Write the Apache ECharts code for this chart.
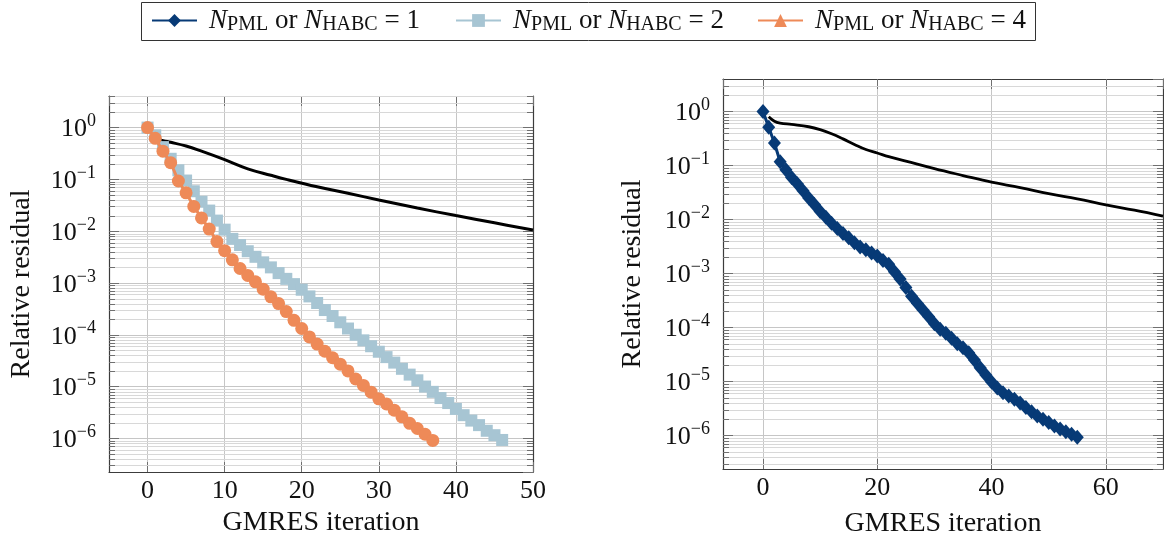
<!DOCTYPE html>
<html>
<head>
<meta charset="utf-8">
<script src="https://cdn.jsdelivr.net/npm/echarts@6/dist/echarts.min.js"></script>
<style>
html, body { margin: 0; padding: 0; background: #fff; }
#chart { width: 1164px; height: 543px; }
</style>
</head>
<body>
<div id="chart"></div>
<script>
// Relative GMRES residual per iteration (array index = iteration number)
const residualN1 = [
  1, 0.51, 0.26, 0.117, 0.083, 0.060, 0.046, 0.034, 0.025, 0.019,
  0.014, 0.011, 8.5e-3, 6.8e-3, 5.5e-3, 4.6e-3, 3.7e-3, 3.1e-3, 2.75e-3, 2.4e-3,
  2.1e-3, 1.74e-3, 1.48e-3, 1.07e-3, 7.9e-4, 5.5e-4, 3.8e-4, 2.8e-4, 2.1e-4, 1.58e-4,
  1.17e-4, 9.3e-5, 7.8e-5, 6.3e-5, 5.0e-5, 4.2e-5, 3.4e-5, 2.5e-5, 1.8e-5, 1.32e-5,
  9.8e-6, 7.6e-6, 6.2e-6, 5.4e-6, 4.7e-6, 4.0e-6, 3.3e-6, 2.75e-6, 2.3e-6, 2.0e-6,
  1.74e-6, 1.5e-6, 1.32e-6, 1.17e-6, 1.05e-6, 9.3e-7
];
const residualN2 = [
  1, 0.71, 0.42, 0.25, 0.15, 0.095, 0.059, 0.037, 0.025, 0.016,
  0.0107, 7.1e-3, 5.4e-3, 4.1e-3, 3.2e-3, 2.5e-3, 2.0e-3, 1.55e-3, 1.2e-3, 9.5e-4,
  7.4e-4, 5.5e-4, 4.1e-4, 3.0e-4, 2.3e-4, 1.74e-4, 1.32e-4, 1.0e-4, 7.8e-5, 6.0e-5,
  4.7e-5, 3.7e-5, 2.9e-5, 2.2e-5, 1.7e-5, 1.32e-5, 1.0e-5, 7.9e-6, 6.0e-6, 4.8e-6,
  3.7e-6, 2.8e-6, 2.2e-6, 1.8e-6, 1.4e-6, 1.15e-6, 9.3e-7
];
const residualN4 = [
  1, 0.62, 0.35, 0.21, 0.093, 0.055, 0.030, 0.018, 0.011, 6.3e-3,
  4.2e-3, 2.8e-3, 1.9e-3, 1.4e-3, 1.05e-3, 7.6e-4, 5.4e-4, 4.0e-4, 2.8e-4, 1.9e-4,
  1.32e-4, 9.1e-5, 6.6e-5, 4.8e-5, 3.6e-5, 2.7e-5, 2.0e-5, 1.4e-5, 1.05e-5, 7.8e-6,
  5.8e-6, 4.6e-6, 3.5e-6, 2.6e-6, 1.95e-6, 1.55e-6, 1.2e-6, 9.1e-7
];

// Unpreconditioned reference curves (iteration, residual)
const refLeftIter = [1, 2, 3, 5, 7, 10, 13, 16, 18, 22, 26, 30, 35, 40, 45, 50];
const refLeftRes  = [0.62, 0.56, 0.52, 0.44, 0.35, 0.24, 0.16, 0.12, 0.10, 0.072, 0.054, 0.040, 0.028, 0.020, 0.0145, 0.0105];
const refRightIter = [1, 2, 3, 5, 8, 10, 12, 14, 16, 18, 20, 22, 25, 30, 35, 40, 45, 50, 55, 60, 65, 70];
const refRightRes  = [0.80, 0.66, 0.61, 0.575, 0.52, 0.46, 0.385, 0.31, 0.245, 0.197, 0.170, 0.145, 0.120, 0.087, 0.065, 0.049, 0.039, 0.030, 0.024, 0.0186, 0.0148, 0.0115];

// Legend labels: layer count for each run
const legendCounts = { n1: '1', n2: '2', n4: '4' };

const FONT = 'Liberation Serif';
const C_N1 = '#073a76';
const C_N2 = '#a7c5d3';
const C_N4 = '#ee8a58';
const AXIS_COL = '#3c3c3c';
const TICK_COL = '#707070';
const GRID_MAJOR = '#c6c6c6';
const GRID_MINOR = '#d8d8d8';

const leftRange  = { xMin: -5, xMax: 50, yMin: Math.pow(10, -6.65), yMax: Math.pow(10, 0.61) };
const rightRange = { xMin: -7, xMax: 70, yMin: Math.pow(10, -6.62), yMax: Math.pow(10, 0.60) };

// Minor log ticks (2..9 per decade)
function minorTicks(lo, hi) {
  const out = [];
  for (let k = -7; k <= 0; k++) {
    for (let m = 2; m <= 9; m++) {
      const v = m * Math.pow(10, k);
      if (v > lo && v < hi) out.push(v);
    }
  }
  return out;
}

const tickRich = {
  b: { fontFamily: FONT, fontSize: 26, lineHeight: 30, verticalAlign: 'bottom', color: '#111' },
  p: { fontFamily: FONT, fontSize: 18, lineHeight: 16, verticalAlign: 'top', color: '#111' }
};
function powLabel(v) {
  const k = Math.round(Math.log10(v));
  return '{b|10}{p|' + (k < 0 ? '\u2212' : '') + Math.abs(k) + '}';
}

function xAxes(gi, r, showMax, nameGap) {
  return [
    {
      type: 'value', gridIndex: gi, min: r.xMin, max: r.xMax, position: 'bottom',
      axisLine: { show: true, onZero: false, lineStyle: { color: AXIS_COL, width: 1.2 } },
      axisTick: { show: true, inside: true, length: 10, lineStyle: { color: TICK_COL } },
      axisLabel: { show: true, margin: 6, color: '#111', fontFamily: FONT, fontSize: 26,
                   showMinLabel: false, showMaxLabel: showMax },
      splitLine: { show: true, lineStyle: { color: GRID_MAJOR, width: 1 } },
      name: 'GMRES iteration', nameLocation: 'middle', nameGap: nameGap,
      nameTextStyle: { fontFamily: FONT, fontSize: 28, color: '#111' }
    },
    {
      type: 'value', gridIndex: gi, min: r.xMin, max: r.xMax, position: 'top',
      axisLine: { show: true, onZero: false, lineStyle: { color: AXIS_COL, width: 1.2 } },
      axisTick: { show: true, inside: true, length: 10, lineStyle: { color: TICK_COL } },
      axisLabel: { show: false },
      splitLine: { show: false }
    }
  ];
}

function yAxes(gi, r, nameGap) {
  return [
    {
      type: 'log', logBase: 10, gridIndex: gi, min: r.yMin, max: r.yMax, splitNumber: 7, position: 'left',
      axisLine: { show: true, onZero: false, lineStyle: { color: AXIS_COL, width: 1.2 } },
      axisTick: { show: true, inside: true, length: 10, lineStyle: { color: TICK_COL } },
      axisLabel: { show: true, margin: 13, formatter: powLabel, rich: tickRich,
                   showMinLabel: false, showMaxLabel: false },
      splitLine: { show: true, lineStyle: { color: GRID_MAJOR, width: 1 } },
      name: 'Relative residual', nameLocation: 'middle', nameGap: nameGap, nameRotate: 90,
      nameTextStyle: { fontFamily: FONT, fontSize: 28, color: '#111' }
    },
    {
      type: 'log', logBase: 10, gridIndex: gi, min: r.yMin, max: r.yMax, splitNumber: 7, position: 'right',
      axisLine: { show: true, onZero: false, lineStyle: { color: AXIS_COL, width: 1.2 } },
      axisTick: { show: true, inside: true, length: 10, lineStyle: { color: TICK_COL } },
      axisLabel: { show: false },
      splitLine: { show: false }
    }
  ];
}

// Minor gridlines plus short inner ticks on both vertical edges
function minorGridSeries(xi, yi, r) {
  return {
    type: 'custom', xAxisIndex: xi, yAxisIndex: yi, silent: true, z: 1,
    data: minorTicks(r.yMin, r.yMax).map(v => [0, v]),
    encode: { x: 0, y: 1 },
    renderItem: function (params, api) {
      const cs = params.coordSys;
      const y = Math.round(api.coord([0, api.value(1)])[1]) + 0.5;
      return {
        type: 'group',
        children: [
          { type: 'line', shape: { x1: cs.x, y1: y, x2: cs.x + cs.width, y2: y }, style: { stroke: GRID_MINOR, lineWidth: 1 } },
          { type: 'line', shape: { x1: cs.x, y1: y, x2: cs.x + 6, y2: y }, style: { stroke: TICK_COL, lineWidth: 1 } },
          { type: 'line', shape: { x1: cs.x + cs.width - 6, y1: y, x2: cs.x + cs.width, y2: y }, style: { stroke: TICK_COL, lineWidth: 1 } }
        ]
      };
    }
  };
}

function indexed(arr) { return arr.map((v, i) => [i, v]); }
function paired(xs, ys) { return xs.map((x, i) => [x, ys[i]]); }

const legendRich = {
  ni0: { fontFamily: FONT, fontStyle: 'italic', fontSize: 27, lineHeight: 28, color: '#111', padding: [0, 0, 0, 7] },
  ni:  { fontFamily: FONT, fontStyle: 'italic', fontSize: 27, lineHeight: 28, color: '#111' },
  sb:  { fontFamily: FONT, fontSize: 20, lineHeight: 14, verticalAlign: 'bottom', color: '#111' },
  t:   { fontFamily: FONT, fontSize: 27, lineHeight: 28, color: '#111' }
};

function legendEntry(name, left) {
  return {
    data: [name], top: 7, left: left, padding: 0,
    itemWidth: 45, itemHeight: 16, selectedMode: false,
    formatter: n => '{ni0|N}{sb|PML}{t| or }{ni|N}{sb|HABC}{t| = ' + legendCounts[n] + '}',
    textStyle: { fontFamily: FONT, fontSize: 27, color: '#111', rich: legendRich }
  };
}

const chart = echarts.init(document.getElementById('chart'), null, { renderer: 'canvas' });

chart.setOption({
  animation: false,
  backgroundColor: '#fff',
  graphic: [
    { type: 'rect', z: 0, silent: true,
      shape: { x: 141.5, y: 2.5, width: 894, height: 38 },
      style: { fill: '#fff', stroke: '#333', lineWidth: 1 } }
  ],
  legend: [legendEntry('n1', 151), legendEntry('n2', 455), legendEntry('n4', 757)],
  grid: [
    { left: 109, top: 96, width: 424, height: 376, outerBoundsMode: 'none' },
    { left: 723, top: 79, width: 440, height: 390, outerBoundsMode: 'none' }
  ],
  xAxis: [...xAxes(0, leftRange, true, 37), ...xAxes(1, rightRange, false, 41)],
  yAxis: [...yAxes(0, leftRange, 73), ...yAxes(1, rightRange, 76)],
  series: [
    // legend marker for the N = 4 entry
    {
      name: 'n4', type: 'line', xAxisIndex: 2, yAxisIndex: 2, data: [],
      symbol: 'triangle', color: C_N4, lineStyle: { width: 3, color: C_N4 }
    },
    minorGridSeries(0, 0, leftRange),
    minorGridSeries(2, 2, rightRange),
    {
      name: 'refLeft', type: 'line', xAxisIndex: 0, yAxisIndex: 0, z: 3,
      data: paired(refLeftIter, refLeftRes), smooth: 0.4, showSymbol: false,
      lineStyle: { color: '#000', width: 3 }, silent: true
    },
    {
      name: 'n2', type: 'line', xAxisIndex: 0, yAxisIndex: 0, z: 4,
      data: indexed(residualN2), symbol: 'rect', symbolSize: 12, color: C_N2,
      itemStyle: { color: C_N2, borderWidth: 0 }, lineStyle: { color: C_N2, width: 3 }
    },
    {
      name: 'n4', type: 'line', xAxisIndex: 0, yAxisIndex: 0, z: 5,
      data: indexed(residualN4), symbol: 'circle', symbolSize: 13, color: C_N4,
      itemStyle: { color: C_N4, borderWidth: 0 }, lineStyle: { color: C_N4, width: 3 }
    },
    {
      name: 'refRight', type: 'line', xAxisIndex: 2, yAxisIndex: 2, z: 3,
      data: paired(refRightIter, refRightRes), smooth: 0.4, showSymbol: false,
      lineStyle: { color: '#000', width: 2.8 }, silent: true
    },
    {
      name: 'n1', type: 'line', xAxisIndex: 2, yAxisIndex: 2, z: 4,
      data: indexed(residualN1), symbol: 'diamond', symbolSize: [13, 15], color: C_N1,
      itemStyle: { color: C_N1, borderWidth: 0 }, lineStyle: { color: C_N1, width: 3 }
    }
  ]
});
</script>
</body>
</html>
